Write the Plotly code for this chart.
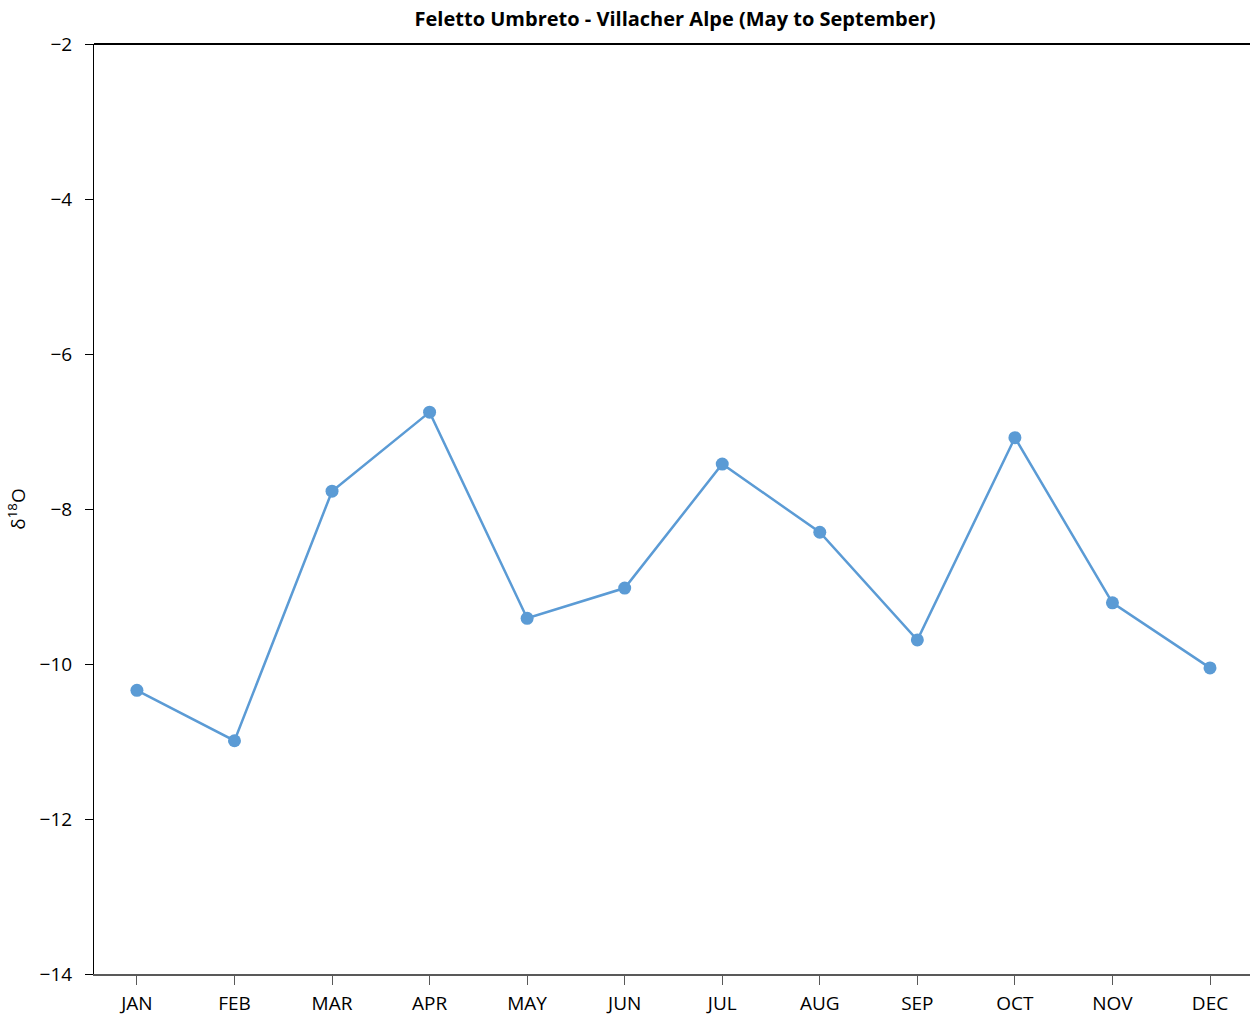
import plotly.graph_objects as go

months = ["JAN", "FEB", "MAR", "APR", "MAY", "JUN", "JUL", "AUG", "SEP", "OCT", "NOV", "DEC"]
d18o = [-10.34, -10.99, -7.77, -6.75, -9.41, -9.02, -7.42, -8.30, -9.69, -7.08, -9.21, -10.05]
y_ticks = [-14, -12, -10, -8, -6, -4, -2]

FONT = "Open Sans"
fig = go.Figure()
fig.add_trace(go.Scatter(
    x=list(range(len(months))), y=d18o, mode="lines+markers",
    line=dict(color="#5B9BD5", width=2.5),
    marker=dict(color="#5B9BD5", size=13),
    showlegend=False,
))
fig.update_layout(
    width=1250, height=1015,
    margin=dict(l=94, r=0, t=44, b=41, autoexpand=False),
    paper_bgcolor="white", plot_bgcolor="white",
    font=dict(family=FONT, size=19, color="black"),
    title=dict(text="<b>Feletto Umbreto - Villacher Alpe (May to September)</b>",
               x=0.54, xanchor="center", y=1 - 12 / 1015, yanchor="top",
               font=dict(family=FONT, size=20, color="black")),
    xaxis=dict(
        tickmode="array", tickvals=list(range(len(months))), ticktext=months,
        range=[-0.44, 11.41], showgrid=False, zeroline=False, automargin=False,
        showline=True, linecolor="#595959", linewidth=2,
        ticks="outside", ticklen=9, tickcolor="#595959", tickwidth=1,
        tickfont=dict(family=FONT, size=19), ticklabelstandoff=2,
    ),
    yaxis=dict(
        range=[-14, -2], tickvals=y_ticks, showgrid=False, zeroline=False, automargin=False,
        showline=True, linecolor="black", linewidth=1,
        ticks="outside", ticklen=8, tickcolor="black", tickwidth=1,
        tickfont=dict(family=FONT, size=19), ticklabelstandoff=9,
        title=dict(text="δ<sup>18</sup>O", font=dict(family=FONT, size=19), standoff=8),
    ),
)
fig.add_shape(type="line", xref="paper", yref="paper", x0=0, x1=1, y0=1, y1=1,
              line=dict(color="black", width=2))
fig.write_html(
    "out.html",
    config={"displayModeBar": False},
    post_script="document.body.style.margin='0';document.body.style.overflow='hidden';",
)
